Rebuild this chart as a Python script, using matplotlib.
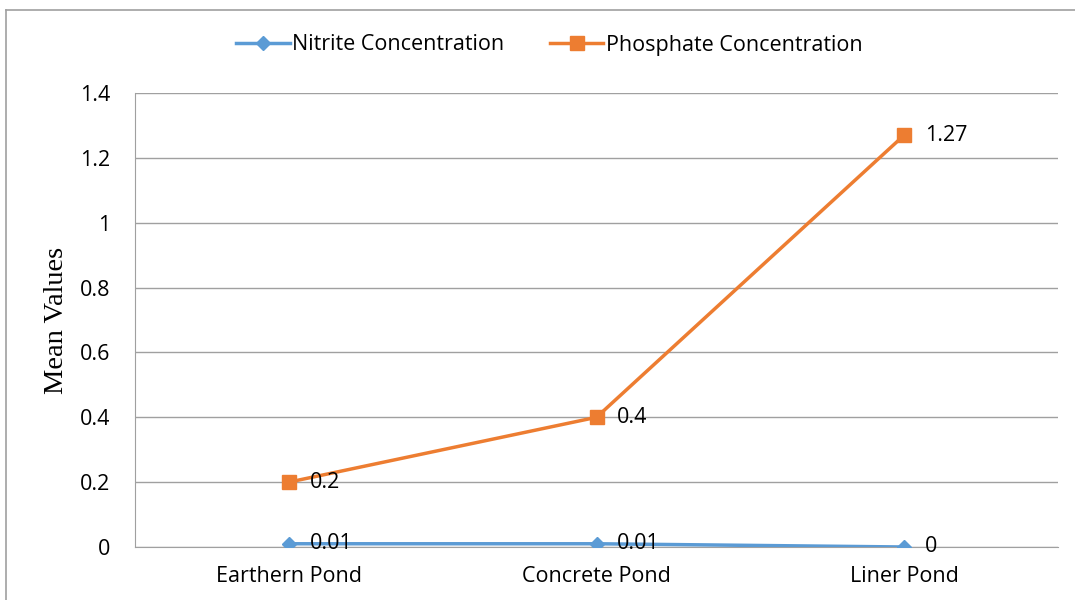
import matplotlib.pyplot as plt
from matplotlib.lines import Line2D

# Dados
categorias = ['Earthern Pond', 'Concrete Pond', 'Liner Pond']
nitrito = [0.01, 0.01, 0]
fosfato = [0.2, 0.4, 1.27]
rotulos_nitrito = ['0.01', '0.01', '0']
rotulos_fosfato = ['0.2', '0.4', '1.27']
yticks = [0, 0.2, 0.4, 0.6, 0.8, 1, 1.2, 1.4]

azul = '#5b9bd5'
laranja = '#ed7d31'
fonte = 'Open Sans'
tam = 15.5

fig = plt.figure(figsize=(10.75, 6), dpi=100)
ax = fig.add_axes([135 / 1075, 53 / 600, (1058 - 135) / 1075, (547 - 93) / 600])

x = list(range(len(categorias)))
ax.plot(x, fosfato, color=laranja, lw=2.5, marker='s', ms=10, label='Phosphate Concentration', zorder=3)
ax.plot(x, nitrito, color=azul, lw=2.5, marker='D', ms=7, label='Nitrite Concentration', zorder=4)

for xi, v, t in zip(x, nitrito, rotulos_nitrito):
    ax.annotate(t, (xi, v), xytext=(15, 0), textcoords='offset points',
                ha='left', va='center', fontsize=tam, family=fonte, zorder=5)
for xi, v, t in zip(x, fosfato, rotulos_fosfato):
    ax.annotate(t, (xi, v), xytext=(15, 0), textcoords='offset points',
                ha='left', va='center', fontsize=tam, family=fonte, zorder=5)

ax.set_xlim(-0.5, 2.5)
ax.set_ylim(0, 1.4)
ax.set_yticks(yticks)
ax.set_yticklabels([f'{t:g}' for t in yticks], family=fonte, fontsize=tam)
ax.set_xticks(x)
ax.set_xticklabels(categorias, family=fonte, fontsize=tam)
ax.tick_params(axis='y', length=0, pad=18)
ax.tick_params(axis='x', length=0, pad=14)
ax.grid(axis='y', color='#a0a0a0', lw=1)
ax.set_axisbelow(True)
for s in ['top', 'right']:
    ax.spines[s].set_visible(False)
for s in ['left', 'bottom']:
    ax.spines[s].set_color('#a0a0a0')

fig.text(57 / 1075, (600 - 320) / 600, 'Mean Values', rotation=90, ha='center', va='center',
         family='Liberation Serif', fontsize=20.5)

handles = [
    Line2D([], [], color=azul, lw=2.5, marker='D', ms=7),
    Line2D([], [], color=laranja, lw=2.5, marker='s', ms=10),
]
fig.legend(handles, ['Nitrite Concentration', 'Phosphate Concentration'],
           loc='center', bbox_to_anchor=(0.511, (600 - 45) / 600), ncol=2, frameon=False,
           prop={'family': fonte, 'size': tam}, handlelength=2.5, handletextpad=0.1, columnspacing=2.1)

# moldura externa
fig.add_artist(Line2D([6 / 1075, 1], [1 - 10 / 600, 1 - 10 / 600], color='#a0a0a0', lw=1.2))
fig.add_artist(Line2D([6 / 1075, 6 / 1075], [0, 1 - 10 / 600], color='#a0a0a0', lw=1.2))

fig.savefig('out.png', dpi=100)
